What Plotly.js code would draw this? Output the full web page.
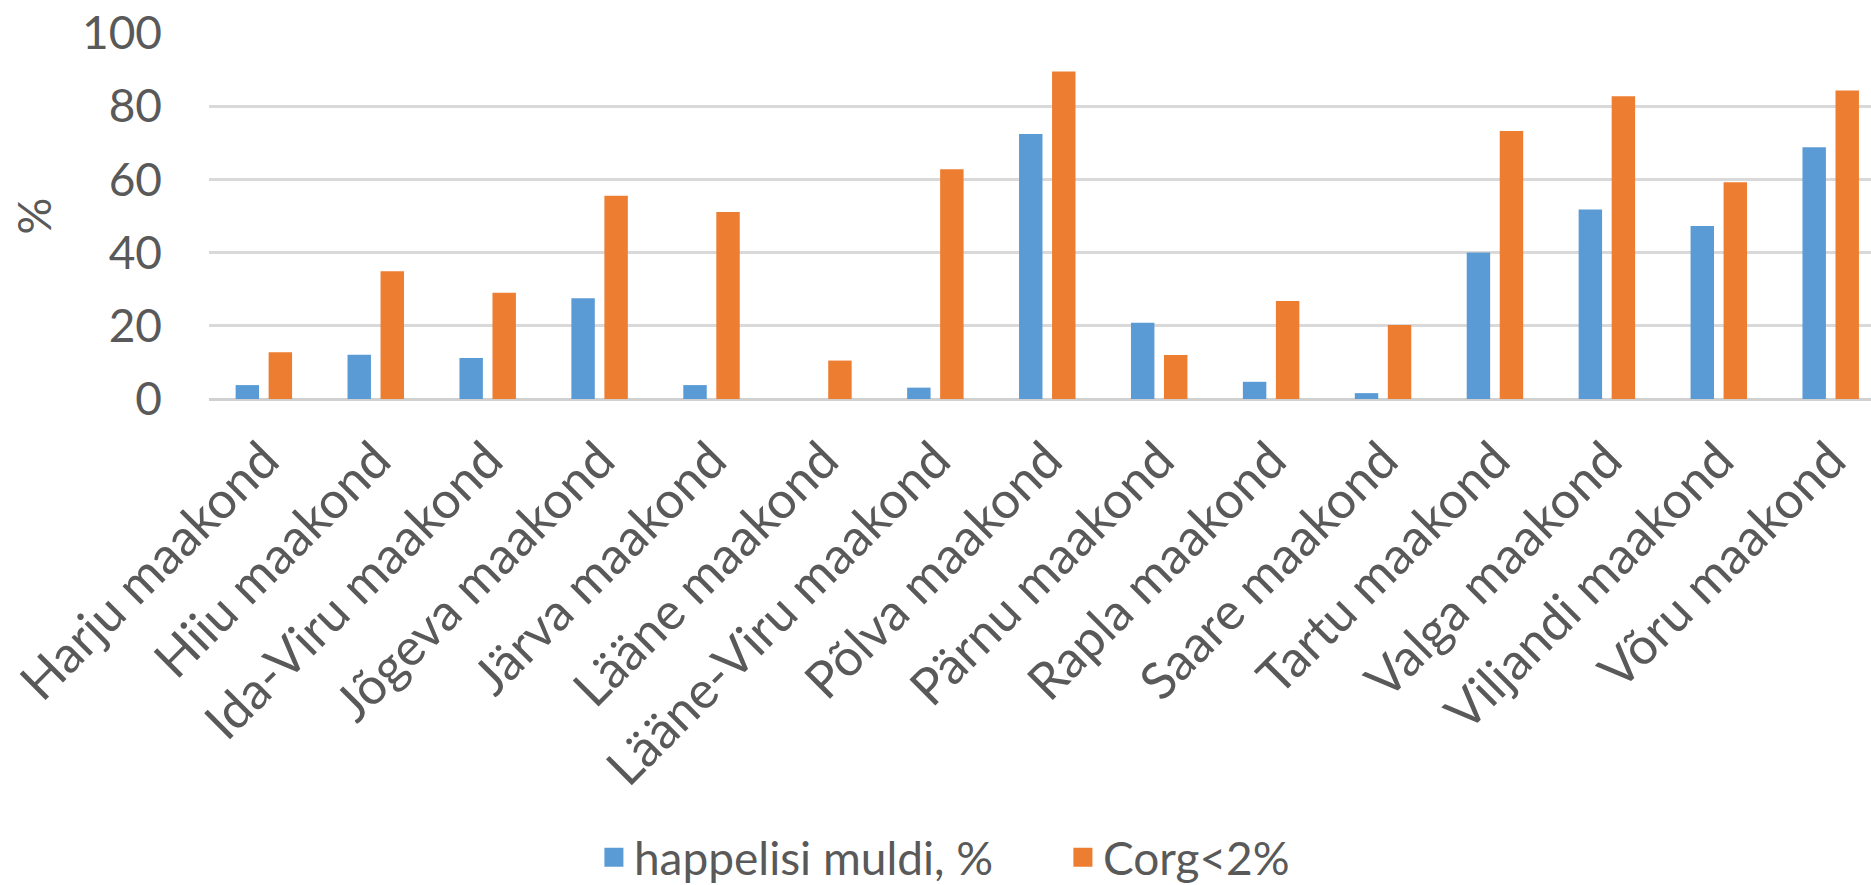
<!DOCTYPE html>
<html>
<head>
<meta charset="utf-8">
<script src="https://cdn.plot.ly/plotly-3.0.1.min.js"></script>
<style>
  html, body { margin: 0; padding: 0; background: #ffffff; }
  #chart { width: 1871px; height: 885px; }
</style>
</head>
<body>
<div id="chart"></div>
<script>
const categories = [
  "Harju maakond", "Hiiu maakond", "Ida-Viru maakond", "Jõgeva maakond",
  "Järva maakond", "Lääne maakond", "Lääne-Viru maakond", "Põlva maakond",
  "Pärnu maakond", "Rapla maakond", "Saare maakond", "Tartu maakond",
  "Valga maakond", "Viljandi maakond", "Võru maakond"
];
const seriesNames = ["happelisi muldi, %", "Corg<2%"];
const happelisi = [3.8, 12.1, 11.2, 27.5, 3.8, 0, 3.1, 72.4, 20.8, 4.7, 1.6, 40.0, 51.8, 47.3, 68.8];
const corg = [12.8, 34.9, 29.0, 55.5, 51.1, 10.5, 62.8, 89.5, 12.0, 26.8, 20.2, 73.2, 82.7, 59.2, 84.3];
const yTicks = [0, 20, 40, 60, 80, 100];

const textColor = "#595959";
const fontFamily = "Lato, 'Open Sans', sans-serif";

const data = [
  { type: "bar", name: seriesNames[0], x: categories, y: happelisi,
    marker: { color: "#5B9BD5" }, hoverinfo: "x+y" },
  { type: "bar", name: seriesNames[1], x: categories, y: corg,
    marker: { color: "#ED7D31" }, hoverinfo: "x+y" }
];

const layout = {
  width: 1871, height: 885,
  margin: { l: 209, r: 0, t: 33, b: 486, pad: 0, autoexpand: false },
  paper_bgcolor: "#ffffff", plot_bgcolor: "#ffffff",
  barmode: "group", bargap: 0.41, bargroupgap: 0.29,
  font: { family: fontFamily, color: textColor, size: 46 },
  showlegend: true,
  legend: {
    orientation: "h", x: 0.2316, xanchor: "left", y: -1.252, yanchor: "middle",
    font: { family: fontFamily, size: 46, color: textColor },
    itemwidth: 30, entrywidth: 424, entrywidthmode: "pixels", traceorder: "normal"
  },
  xaxis: {
    type: "category", range: [-0.49, 14.36],
    tickangle: -45, tickfont: { family: fontFamily, size: 51, color: textColor },
    showgrid: false, zeroline: false, showline: false, ticks: "",
    ticklabelstandoff: 20, automargin: false, fixedrange: true
  },
  yaxis: {
    range: [0, 100], tickvals: yTicks, ticktext: yTicks.map(String),
    showgrid: true, gridcolor: "#d9d9d9", gridwidth: 3,
    zeroline: true, zerolinecolor: "#d0d0d0", zerolinewidth: 3,
    showline: false, ticks: "", ticklabelstandoff: 46,
    tickfont: { family: fontFamily, size: 46, color: textColor },
    title: { text: "%", font: { family: fontFamily, size: 46, color: textColor }, standoff: 15 },
    automargin: false, fixedrange: true
  }
};

Plotly.newPlot("chart", data, layout, { displayModeBar: false, staticPlot: true }).then(function (gd) {
  gd.querySelectorAll(".legend .legendpoints path").forEach(function (p) {
    p.setAttribute("d", "M9.5,9.5H-9.5V-9.5H9.5Z");
  });
});
</script>
</body>
</html>
